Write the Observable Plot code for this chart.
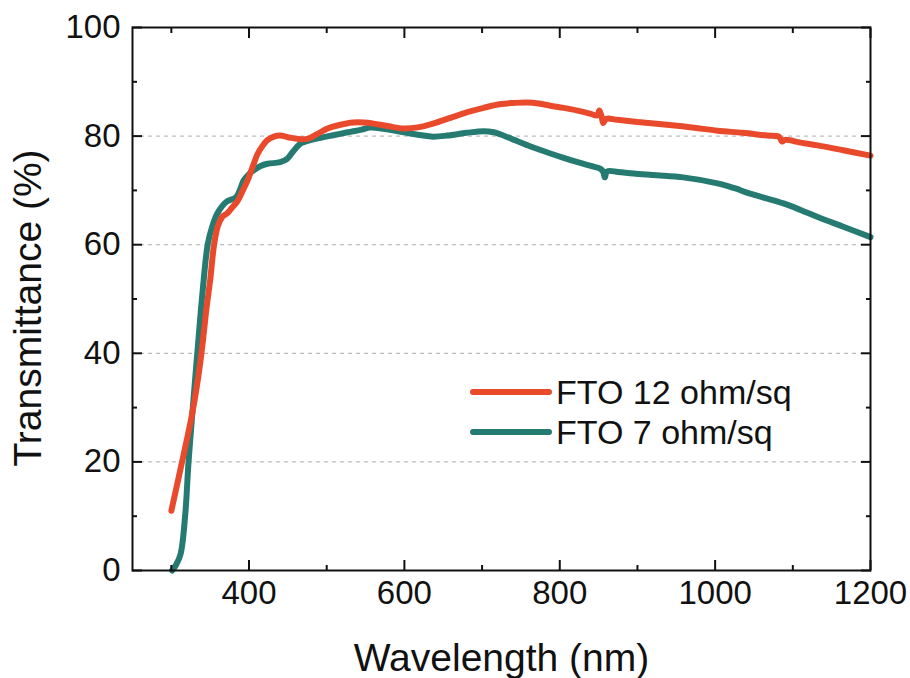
<!DOCTYPE html>
<html>
<head>
<meta charset="utf-8">
<script src="https://cdn.jsdelivr.net/npm/d3@7"></script>
<script src="https://cdn.jsdelivr.net/npm/@observablehq/plot@0.6"></script>
<style>
  html, body { margin: 0; padding: 0; background: #fff; }
  #wrap { position: relative; width: 910px; height: 678px; overflow: hidden; font-family: "Liberation Sans", Arial, sans-serif; }
  #legend { position: absolute; left: 470px; top: 372px; font-size: 34px; color: #111; }
  #legend .row { display: flex; align-items: center; height: 40px; }
  #legend .sw { width: 82px; height: 6px; border-radius: 3px; margin-right: 4px; }
</style>
</head>
<body>
<div id="wrap"></div>
<script>
// FTO 12 ohm/sq
const wl12 = [300, 313, 327, 335, 340, 345, 350, 355, 360, 366, 372, 378, 385, 392, 398, 405, 411, 418, 424, 432, 440, 450, 462, 475, 488, 501, 515, 534, 548, 560, 580, 599, 617, 637, 660, 681, 702, 724, 740, 758, 773, 788, 805, 823, 840, 848, 851, 854, 856, 860, 874, 900, 938, 970, 1003, 1035, 1067, 1082, 1086, 1090, 1110, 1132, 1165, 1200];
const t12  = [11, 19.5, 29, 36, 41.5, 48, 53.5, 60, 63.5, 65.2, 65.8, 66.8, 68, 70, 71.8, 74.5, 76.7, 78.3, 79.3, 79.9, 80.1, 79.8, 79.5, 79.5, 80.4, 81.4, 82, 82.5, 82.5, 82.3, 81.8, 81.4, 81.6, 82.3, 83.4, 84.4, 85.2, 85.9, 86.1, 86.2, 86, 85.6, 85.2, 84.7, 84.1, 83.8, 84.7, 83.5, 82.4, 83.2, 83.0, 82.6, 82.1, 81.6, 81.0, 80.6, 80.1, 79.9, 79.0, 79.3, 78.8, 78.3, 77.4, 76.4];
// FTO 7 ohm/sq
const wl7 = [301, 306, 312, 318, 322, 327, 334, 340, 347, 353, 359, 366, 372, 383, 388, 393, 400, 406, 415, 424, 440, 449, 457, 466, 480, 492, 510, 527, 545, 556, 575, 599, 620, 637, 655, 680, 702, 715, 724, 745, 766, 788, 805, 823, 840, 852, 856, 858, 861, 875, 895, 925, 959, 1003, 1025, 1045, 1067, 1088, 1110, 1132, 1165, 1200];
const t7  = [0, 1, 3.1, 10.5, 19.7, 28.9, 41, 51, 60.2, 63.5, 65.7, 67.2, 68, 68.7, 70, 71.8, 73, 73.7, 74.5, 74.9, 75.2, 75.8, 77.2, 78.6, 79.3, 79.7, 80.2, 80.7, 81.2, 81.6, 81.3, 80.7, 80.2, 79.9, 80.1, 80.6, 80.9, 80.7, 80.3, 79.1, 77.9, 76.8, 76, 75.2, 74.5, 74.0, 73.4, 72.4, 73.5, 73.4, 73.1, 72.8, 72.4, 71.3, 70.4, 69.4, 68.5, 67.6, 66.4, 65.1, 63.3, 61.4];

const seriesNames = ["FTO 12 ohm/sq", "FTO 7 ohm/sq"];
const seriesColors = ["#E94A2C", "#257A72"];
const xMajor = [400, 600, 800, 1000, 1200];
const xMinor = [300, 500, 700, 900, 1100];
const yMajor = [0, 20, 40, 60, 80, 100];
const yMinor = [10, 30, 50, 70, 90];
const yGrid = [20, 40, 60, 80];

const d12 = wl12.map((w, i) => ({w, t: t12[i]}));
const d7 = wl7.map((w, i) => ({w, t: t7[i]}));

const font = "Liberation Sans, Arial, sans-serif";
const fmt = d => String(d);

const chart = Plot.plot({
  width: 910,
  height: 678,
  marginLeft: 132,
  marginRight: 40,
  marginTop: 27,
  marginBottom: 108,
  style: {fontFamily: font, fontSize: "33px", color: "#111", background: "#fff"},
  x: {domain: [250, 1200]},
  y: {domain: [0, 100]},
  marks: [
    Plot.gridY(yGrid, {stroke: "#999", strokeOpacity: 0.8, strokeDasharray: "4,4", strokeWidth: 1}),
    Plot.line(d7, {x: "w", y: "t", stroke: seriesColors[1], strokeWidth: 6, strokeLinecap: "round", strokeLinejoin: "round", curve: "catmull-rom"}),
    Plot.line(d12, {x: "w", y: "t", stroke: seriesColors[0], strokeWidth: 6, strokeLinecap: "round", strokeLinejoin: "round", curve: "catmull-rom"}),
    Plot.frame({stroke: "#111", strokeWidth: 2}),
    Plot.axisX(xMajor, {anchor: "bottom", tickSize: -10, tickPadding: 20, tickFormat: fmt, strokeWidth: 2, label: null, fontSize: 33}),
    Plot.axisX(xMinor, {anchor: "bottom", tickSize: -5, fill: "none", strokeWidth: 2, label: null}),
    Plot.axisX(xMajor, {anchor: "top", tickSize: -10, fill: "none", strokeWidth: 2, label: null}),
    Plot.axisX(xMinor, {anchor: "top", tickSize: -5, fill: "none", strokeWidth: 2, label: null}),
    Plot.axisY(yMajor, {anchor: "left", tickSize: -10, tickPadding: 22, tickFormat: fmt, strokeWidth: 2, label: null, fontSize: 33}),
    Plot.axisY(yMinor, {anchor: "left", tickSize: -5, fill: "none", strokeWidth: 2, label: null}),
    Plot.axisY(yMajor, {anchor: "right", tickSize: -10, fill: "none", strokeWidth: 2, label: null}),
    Plot.axisY(yMinor, {anchor: "right", tickSize: -5, fill: "none", strokeWidth: 2, label: null}),
    Plot.text(["Wavelength (nm)"], {frameAnchor: "bottom", dy: 88, fontSize: 39, textAnchor: "middle", lineAnchor: "middle", fill: "#111"}),
    Plot.text(["Transmittance (%)"], {frameAnchor: "left", dx: -104, dy: 9, rotate: -90, fontSize: 39, textAnchor: "middle", lineAnchor: "middle", fill: "#111"})
  ]
});

const wrap = document.getElementById("wrap");
wrap.appendChild(chart);
const legend = document.createElement("div");
legend.id = "legend";
seriesNames.forEach((name, i) => {
  const row = document.createElement("div");
  row.className = "row";
  const sw = document.createElement("div");
  sw.className = "sw";
  sw.style.background = seriesColors[i];
  const tx = document.createElement("span");
  tx.textContent = name;
  row.appendChild(sw);
  row.appendChild(tx);
  legend.appendChild(row);
});
wrap.appendChild(legend);
</script>
</body>
</html>
